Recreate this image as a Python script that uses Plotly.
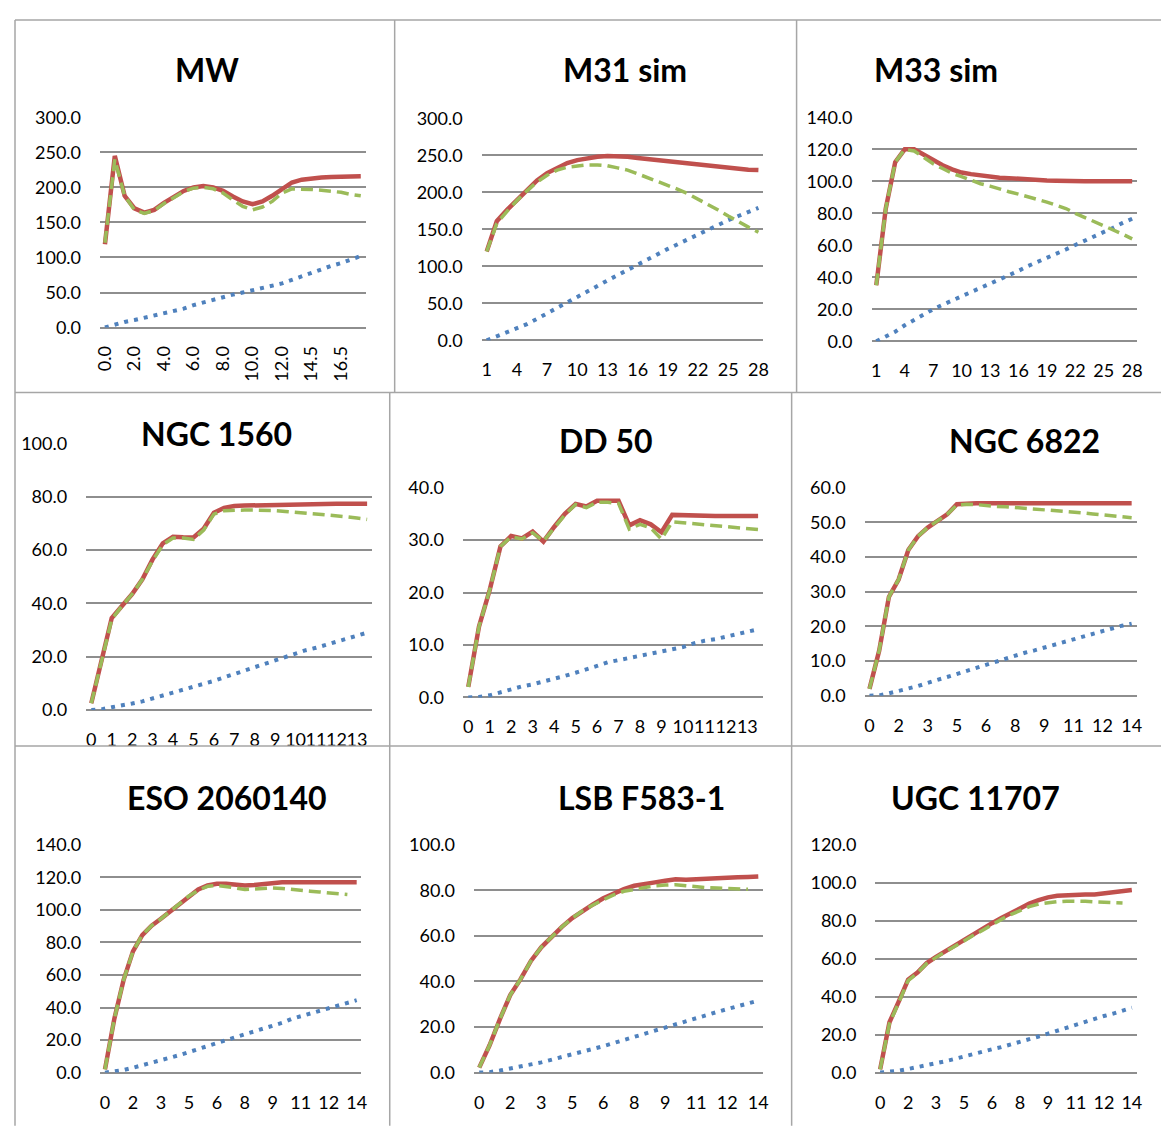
import plotly.graph_objects as go

# page is 1169x1136; the browser body adds an 8px margin, so the figure is 16px smaller
PAGE_W, PAGE_H, OFF = 1169, 1136, 8
W, H = PAGE_W - 2 * OFF, PAGE_H - 2 * OFF

# ---------------- data ----------------
mw_xlabels = ["0.0", "2.0", "4.0", "6.0", "8.0", "10.0", "12.0", "14.5", "16.5"]
mw_solid = [119, 245, 188, 170, 164, 168, 178, 187, 195, 200, 202, 200, 195, 187, 180, 176,
            180, 188, 197, 207, 211, 213, 214, 215, 215, 215, 216]
mw_dashed = [121, 240, 188, 168, 163, 167, 177, 186, 194, 199, 200, 198, 192, 182, 173, 168,
             172, 180, 192, 198, 198, 197, 196, 195, 193, 190, 188]
mw_dotted = [0, 4.5, 8, 10.7, 14, 16.5, 19.5, 23, 27, 32, 36, 40, 43, 47, 50, 53, 56, 59, 63,
             68, 73, 79, 84, 88, 92, 97, 102]

m31_xlabels = ["1", "4", "7", "10", "13", "16", "19", "22", "25", "28"]
m31_solid = [120, 161, 176, 190, 203, 216, 226, 233, 239.5, 243.5, 246.5, 248, 249, 249, 248,
             246.5, 245, 244, 242.6, 241, 239, 237, 236, 234, 233, 231.5, 230.6, 230]
m31_dashed = [120, 158, 174, 189, 202, 214, 223, 230, 234, 236, 237, 237, 236, 233, 230, 225,
              220, 215, 209, 204, 198, 191, 184, 176, 168, 160, 153, 146]
m31_dotted = [0, 5.4, 9.8, 16, 21.8, 29, 36, 43.2, 51.2, 58.6, 65.5, 73.8, 80.8, 88, 95.4,
              102.8, 109.8, 116.8, 123.5, 130, 136.7, 143.7, 150.3, 156.4, 162.3, 168, 174, 179]

m33_xlabels = ["1", "4", "7", "10", "13", "16", "19", "22", "25", "28"]
m33_solid = [35, 83, 112, 120, 120, 116.5, 113, 110, 107.5, 105.5, 104.5, 103.5, 103, 102.2,
             102, 101.5, 101, 100.8, 100.5, 100.3, 100, 100, 100, 100, 100, 100, 100, 100]
m33_dashed = [35, 83, 112, 120, 119, 115, 111, 108, 105, 103, 100.5, 98.5, 97, 95, 93.5, 92,
              90.5, 89, 87, 85, 83, 80, 77.5, 75, 72.5, 70, 67, 64]
m33_dotted = [0, 2.9, 6, 10, 13.5, 16.7, 20, 22.8, 25.6, 28.4, 31, 33.4, 36, 38.5, 41.3, 44,
              47, 49.5, 52.2, 54.7, 57.4, 60.2, 62.8, 65.7, 68.5, 71, 74, 76.6]

n1560_xlabels = ["0", "1", "2", "3", "4", "5", "6", "7", "8", "9", "10", "11", "12", "13"]
n1560_solid = [2.5, 18, 34.5, 39, 43.5, 49, 56.5, 62.5, 65, 64.8, 64.7, 68, 74, 75.8, 76.5,
               76.7, 76.8, 77, 77.2, 77.3, 77.4, 77.4, 77.4, 77.4, 77.4, 77.4, 77.4, 77.4]
n1560_dashed = [2.5, 18, 34, 39, 43.5, 49, 56, 62, 64.5, 64.5, 64, 67.5, 73.5, 74.8, 75, 75,
                75, 75, 74.8, 74.5, 74.2, 74, 73.6, 73.3, 73, 72.5, 72, 71.5]
n1560_dotted = [0, 0.2, 1, 1.6, 2.4, 3.2, 4.4, 5.5, 6.5, 7.6, 8.7, 9.6, 10.9, 12.2, 13.5,
                14.8, 16, 17.1, 18.4, 19.7, 21, 22.4, 23.3, 24.5, 25.7, 26.8, 28, 29]

dd50_xlabels = ["0", "1", "2", "3", "4", "5", "6", "7", "8", "9", "10", "11", "12", "13"]
dd50_solid = [2, 13.5, 20.5, 28.8, 30.8, 30.3, 31.6, 29.7, 32.5, 35, 36.9, 36.4, 37.5, 37.5,
              37.5, 32.8, 33.8, 33, 31.5, 34.8, 34.7, 34.6, 34.6, 34.6, 34.6, 34.6, 34.6, 34.6]
dd50_dashed = [2, 13.5, 20.5, 28.8, 30.6, 30.2, 31.4, 29.8, 32.3, 34.8, 36.8, 36.2, 37.2,
               37.2, 37, 32.1, 33, 32.3, 30.2, 33.5, 33.3, 33.1, 32.9, 32.7, 32.6, 32.4, 32.2, 32]
dd50_dotted = [0, 0.1, 0.4, 1, 1.5, 2.1, 2.5, 3, 3.5, 4.1, 4.7, 5.3, 6, 6.7, 7.1, 7.5, 7.9,
               8.3, 8.7, 9.1, 9.6, 10.3, 10.8, 11.1, 11.6, 12.1, 12.6, 13]

n6822_xlabels = ["0", "2", "3", "5", "6", "8", "9", "11", "12", "14"]
n6822_solid = [2, 13, 28.5, 33.5, 42, 46, 48.5, 50.3, 52.3, 55.2, 55.5, 55.5, 55.5, 55.5,
               55.5, 55.5, 55.5, 55.5, 55.5, 55.5, 55.5, 55.5, 55.5, 55.5, 55.5, 55.5, 55.5, 55.5]
n6822_dashed = [2, 13, 28.5, 33.5, 42, 46, 48.5, 50.3, 52.3, 55, 55.2, 55.1, 54.8, 54.6, 54.5,
                54.3, 54.1, 53.9, 53.7, 53.4, 53.2, 53, 52.7, 52.4, 52.2, 51.9, 51.6, 51.3]
n6822_dotted = [0, 0.1, 0.7, 1.3, 2.1, 2.8, 3.8, 4.6, 5.4, 6.3, 7.2, 8.1, 9.1, 10, 10.7, 11.5,
                12.4, 13.1, 13.9, 14.7, 15.5, 16.3, 17.1, 17.9, 18.7, 19.4, 20.2, 20.8]

eso_xlabels = ["0", "2", "3", "5", "6", "8", "9", "11", "12", "14"]
eso_solid = [2, 33, 57, 74.5, 84.5, 90.3, 94.5, 99, 104, 108.8, 112.5, 115, 116, 116, 115.5,
             115, 115.3, 116, 116.8, 117, 117, 117, 117, 117, 117, 117, 117, 117]
eso_dashed = [2, 33, 57, 74.5, 84.5, 90.3, 94.5, 99, 104, 108.5, 112, 114.5, 115, 114.5,
              113.5, 112.5, 113, 113.5, 113.5, 113.2, 112.8, 112, 111.5, 111, 110.5, 110, 109.4]
eso_dotted = [0, 0.7, 1.6, 3, 4.7, 6.1, 7.6, 9.2, 10.8, 12.7, 14.5, 16.5, 18.4, 20, 22, 23.6,
              25.3, 27, 28.7, 30.6, 33, 34.6, 36.3, 37.6, 39.5, 41, 42.8, 44.5]

lsb_xlabels = ["0", "2", "3", "5", "6", "8", "9", "11", "12", "14"]
lsb_solid = [2.2, 12, 23.5, 34, 41, 49, 55, 59.5, 64, 67.8, 71, 73.8, 76.5, 78.7, 80.5, 82,
             83, 83.5, 84.2, 84.9, 84.6, 84.9, 85.1, 85.4, 85.6, 85.7, 85.9, 86.1]
lsb_dashed = [2.2, 12, 23.5, 34, 41, 49, 55, 59.5, 64, 67.8, 71, 73.6, 76, 78, 79.6, 80.5,
              81.3, 82, 82.3, 82.5, 82, 81.5, 81.2, 81, 80.8, 80.7, 80.5]
lsb_dotted = [0, 0.2, 0.9, 1.7, 2.4, 3.6, 4.5, 5.6, 6.8, 7.8, 9, 10.4, 11.6, 13, 14.4, 15.8,
              17, 18.4, 19.9, 21.3, 22.6, 24, 25.3, 26.6, 27.9, 29.1, 30.3, 31.6]

ugc_xlabels = ["0", "2", "3", "5", "6", "8", "9", "11", "12", "14"]
ugc_solid = [1.7, 26.5, 37.5, 49, 52.7, 57.7, 61, 64, 67.2, 70, 72.7, 75.6, 78.7, 81.4, 84.1,
             86.8, 89, 90.8, 92.3, 93.1, 93.5, 93.8, 93.8, 93.8, 94.4, 95.1, 95.6, 96.2]
ugc_dashed = [1.7, 26, 37, 48.5, 52.5, 57.5, 60.7, 63.7, 66.8, 69.5, 72.3, 75, 78, 80.7, 83.2,
              85.4, 87.4, 88.8, 89.5, 90, 90.3, 90.4, 90.2, 89.9, 89.6, 89.4, 89.3]
ugc_dotted = [0, 0.3, 1, 1.9, 2.8, 4.1, 5, 6, 7.2, 8.6, 10, 11, 12.3, 13.4, 14.7, 16, 17.3,
              19, 20.5, 22.1, 23.7, 25.3, 26.9, 28.4, 29.8, 31.1, 32.6, 34.2]

titles = ["MW", "M31 sim", "M33 sim", "NGC 1560", "DD 50", "NGC 6822",
          "ESO 2060140", "LSB F583-1", "UGC 11707"]
label_steps = [3, 3, 3, 2, 2, 3, 3, 3, 3]
y_max = [300, 300, 140, 100, 40, 60, 140, 100, 120]
y_step = [50, 50, 20, 20, 10, 10, 20, 20, 20]

series = [
    (mw_solid, mw_dashed, mw_dotted, mw_xlabels),
    (m31_solid, m31_dashed, m31_dotted, m31_xlabels),
    (m33_solid, m33_dashed, m33_dotted, m33_xlabels),
    (n1560_solid, n1560_dashed, n1560_dotted, n1560_xlabels),
    (dd50_solid, dd50_dashed, dd50_dotted, dd50_xlabels),
    (n6822_solid, n6822_dashed, n6822_dotted, n6822_xlabels),
    (eso_solid, eso_dashed, eso_dotted, eso_xlabels),
    (lsb_solid, lsb_dashed, lsb_dotted, lsb_xlabels),
    (ugc_solid, ugc_dashed, ugc_dotted, ugc_xlabels),
]

# ---------------- layout (pixel geometry on the page) ----------------
boxes = [
    (94, 362.7, 107.3, 321.7),
    (480, 765, 108.3, 334.7),
    (874.3, 1142.7, 107.3, 335.7),
    (80, 369.3, 440, 711.7),
    (461, 765, 485, 699),
    (867.3, 1142.3, 485, 697.3),
    (94.3, 358.3, 849.3, 1081.7),
    (472.3, 765, 849.3, 1081.7),
    (878.3, 1142.3, 849.3, 1081.7),
]
title_pos = [(202.5, 58), (624.7, 58), (940, 58), (211.7, 430), (605.8, 437),
             (1029, 437), (222.5, 801), (641.7, 801), (979.7, 801)]


def px(x):
    return (x - OFF) / W


def py(y):
    return 1 - (y - OFF) / H


RED, GREEN, BLUE = "#C0504D", "#9BBB59", "#4F81BD"
FONT = "Lato, Carlito, Calibri, sans-serif"
GRID = "#8e8e8e"

fig = go.Figure()
layout = dict(
    width=W, height=H, margin=dict(l=0, r=0, t=0, b=0),
    paper_bgcolor="white", plot_bgcolor="white", showlegend=False,
    font=dict(family=FONT, color="#000000"),
)
annotations = []

for i, (solid, dashed, dotted, xl) in enumerate(series):
    k = i + 1
    xs = "x" if k == 1 else f"x{k}"
    ys = "y" if k == 1 else f"y{k}"
    n = len(solid)
    fig.add_trace(go.Scatter(x=list(range(len(dotted))), y=dotted, mode="lines",
                             line=dict(color=BLUE, width=4, dash="4px,6px"),
                             xaxis=xs, yaxis=ys, hoverinfo="skip"))
    fig.add_trace(go.Scatter(x=list(range(len(solid))), y=solid, mode="lines",
                             line=dict(color=RED, width=4.5),
                             xaxis=xs, yaxis=ys, hoverinfo="skip"))
    fig.add_trace(go.Scatter(x=list(range(len(dashed))), y=dashed, mode="lines",
                             line=dict(color=GREEN, width=3.5, dash="12px,6px"),
                             xaxis=xs, yaxis=ys, hoverinfo="skip"))
    l, r, t, b = boxes[i]
    step = label_steps[i]
    xname = "xaxis" if k == 1 else f"xaxis{k}"
    yname = "yaxis" if k == 1 else f"yaxis{k}"
    layout[xname] = dict(
        domain=[px(l), px(r)], anchor=ys, range=[-0.5, n - 0.5],
        tickmode="array", tickvals=[j * step for j in range(len(xl))], ticktext=xl,
        tickangle=-90 if k == 1 else 0,
        showgrid=False, zeroline=False, showline=False, ticks="",
        tickfont=dict(size=18, family=FONT, color="#000000"),
        ticklabelstandoff=14 if k == 1 else 17, fixedrange=True,
    )
    layout[yname] = dict(
        domain=[py(b), py(t)], anchor=xs, range=[0, y_max[i]],
        tick0=0, dtick=y_step[i], tickformat=".1f",
        showgrid=True, gridcolor=GRID, gridwidth=1.5,
        zeroline=True, zerolinecolor=GRID, zerolinewidth=1.5, showline=False, ticks="",
        tickfont=dict(size=18, family=FONT, color="#000000"),
        ticklabelstandoff=18, fixedrange=True,
    )
    cx, cy = title_pos[i]
    annotations.append(dict(
        text=f"<b>{titles[i]}</b>", x=px(cx), y=py(cy), xref="paper", yref="paper",
        xanchor="center", yanchor="middle", showarrow=False,
        font=dict(size=32, family=FONT, color="#000000"),
    ))

# panel borders (page pixels)
BORDER = "#a6a6a6"
segs = [
    (8, 8, 1169, 8), (8, 388, 1169, 388), (8, 748.5, 1169, 748.5),
    (8, 8, 8, 1136), (392, 8, 392, 388), (798.5, 8, 798.5, 388),
    (387, 388, 387, 1136), (793.5, 388, 793.5, 1136),
]
shapes = [dict(type="line", xref="paper", yref="paper",
               x0=px(x0), y0=py(y0), x1=px(x1), y1=py(y1),
               line=dict(color=BORDER, width=1.5)) for x0, y0, x1, y1 in segs]

layout["annotations"] = annotations
layout["shapes"] = shapes
fig.update_layout(**layout)
fig.write_html("out.html")
